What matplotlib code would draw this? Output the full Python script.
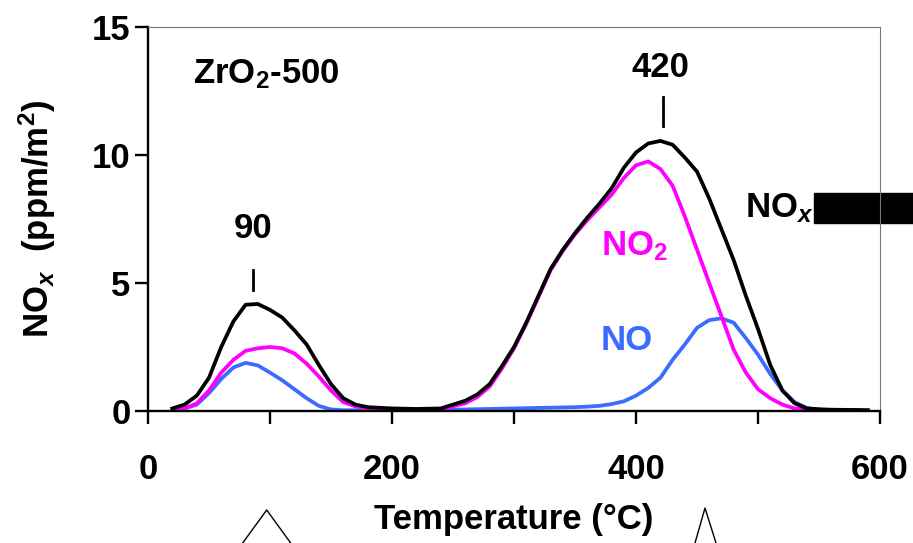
"""
TPD NOx profile, ZrO2-500 : NO, NO2 and total NOx vs temperature.
"""

import matplotlib
matplotlib.use("Agg")
import matplotlib.pyplot as plt
from matplotlib.lines import Line2D
from matplotlib.patches import Rectangle

plt.rcParams["font.family"] = ["Liberation Sans", "DejaVu Sans"]
plt.rcParams["font.weight"] = "bold"
plt.rcParams["mathtext.fontset"] = "custom"
plt.rcParams["mathtext.rm"] = "Liberation Sans:bold"
plt.rcParams["mathtext.bf"] = "Liberation Sans:bold"
plt.rcParams["mathtext.it"] = "Liberation Sans:bold:italic"

# --- data ---
temp = [20, 30, 40, 50, 60, 70, 80, 90, 100, 110, 120, 130, 140, 150, 160,
        170, 180, 200, 220, 240, 260, 270, 280, 290, 300, 310, 320, 330,
        340, 350, 360, 370, 380, 390, 400, 410, 420, 430, 440, 450, 460,
        470, 480, 490, 500, 510, 520, 530, 540, 550, 560, 580, 590]

nox = [0.10, 0.25, 0.60, 1.30, 2.50, 3.50, 4.15, 4.18, 3.95, 3.65, 3.15,
       2.60, 1.80, 1.05, 0.50, 0.25, 0.15, 0.10, 0.08, 0.10, 0.40, 0.65,
       1.05, 1.75, 2.50, 3.45, 4.50, 5.55, 6.30, 6.95, 7.55, 8.10, 8.70,
       9.50, 10.10, 10.45, 10.55, 10.40, 9.90, 9.35, 8.30, 7.10, 5.90,
       4.50, 3.20, 1.80, 0.80, 0.30, 0.10, 0.07, 0.05, 0.04, 0.03]

no2 = [0.05, 0.10, 0.30, 0.80, 1.50, 2.00, 2.35, 2.45, 2.50, 2.45, 2.25,
       1.85, 1.35, 0.80, 0.35, 0.18, 0.10, 0.07, 0.05, 0.07, 0.30, 0.55,
       0.95, 1.65, 2.45, 3.40, 4.45, 5.50, 6.25, 6.90, 7.45, 7.95, 8.45,
       9.10, 9.60, 9.75, 9.45, 8.80, 7.60, 6.30, 5.00, 3.70, 2.40, 1.50,
       0.85, 0.50, 0.25, 0.10, 0.05, 0.03, 0.02, 0.02, 0.02]

no = [0.03, 0.10, 0.25, 0.70, 1.25, 1.70, 1.88, 1.78, 1.50, 1.20, 0.85,
      0.50, 0.20, 0.06, 0.03, 0.03, 0.03, 0.03, 0.04, 0.05, 0.06, 0.07,
      0.08, 0.09, 0.10, 0.11, 0.12, 0.13, 0.14, 0.15, 0.17, 0.20, 0.27,
      0.38, 0.60, 0.90, 1.30, 2.00, 2.60, 3.25, 3.55, 3.62, 3.45, 2.85,
      2.20, 1.45, 0.80, 0.35, 0.12, 0.04, 0.02, 0.02, 0.02]

peak_temps = [90, 420]
x_ticks = [0, 100, 200, 300, 400, 500, 600]
x_ticklabels = ["0", "", "200", "", "400", "", "600"]
y_ticks = [0, 5, 10, 15]

C_NO = "#3B6CFF"
C_NO2 = "#FF00FF"
FS = 25

fig = plt.figure(figsize=(9.13, 5.43), dpi=100)
ax = fig.add_axes([0.1621, 0.2431, 0.8018, 0.7072])

ax.plot(temp, no, color=C_NO, lw=2.7)
ax.plot(temp, no2, color=C_NO2, lw=2.7)
ax.plot(temp, nox, color="black", lw=2.7)

ax.set_xlim(0, 600)
ax.set_ylim(0, 15)
ax.set_xticks(x_ticks)
ax.set_xticklabels(x_ticklabels)
ax.set_yticks(y_ticks)
ax.tick_params(axis="both", direction="out", length=9.5, width=1.7,
               labelsize=FS)
ax.tick_params(axis="x", pad=21)
ax.tick_params(axis="y", pad=3)
for lab in ax.get_xticklabels() + ax.get_yticklabels():
    lab.set_fontweight("bold")

for side in ("left", "bottom"):
    ax.spines[side].set_linewidth(1.7)
    ax.spines[side].set_color("black")
for side in ("top", "right"):
    ax.spines[side].set_linewidth(0.8)
    ax.spines[side].set_color("#777777")

ax.set_xlabel("Temperature (°C)", fontsize=FS, fontweight="bold")
ax.xaxis.set_label_coords(0.5, -0.24)
ax.set_ylabel(r"NO$_x$  (ppm/m$^2$)", fontsize=FS, fontweight="bold")
ax.yaxis.set_label_coords(-0.123, 0.5)

# annotations
ax.text(37, 13.15, r"ZrO$_2$-500", fontsize=FS, fontweight="bold",
        ha="left", va="center")
ax.text(86, 7.14, "90", fontsize=FS, fontweight="bold", ha="center", va="center")
ax.text(420, 13.4, "420", fontsize=FS, fontweight="bold", ha="center", va="center")
ax.plot([peak_temps[0] - 4] * 2, [4.72, 5.5], color="black", lw=2)
ax.plot([peak_temps[1] + 2] * 2, [11.12, 12.25], color="black", lw=2)

ax.text(371, 6.44, r"NO$_2$", color=C_NO2, fontsize=FS, fontweight="bold",
        ha="left", va="center")
ax.text(371, 2.77, "NO", color=C_NO, fontsize=FS, fontweight="bold",
        ha="left", va="center")
ax.text(546, 7.92, r"NO$_x$", color="black", fontsize=FS, fontweight="bold",
        ha="right", va="center")
ax.add_patch(Rectangle((546, 7.33), 150, 1.17, color="black", clip_on=False))

# stray outline marks at the bottom edge
for xs, ys in (([242.7, 266.7, 290.7], [543, 510, 543]),
               ([695, 705, 716], [543, 508, 543])):
    fig.add_artist(Line2D([x / 913 for x in xs], [1 - y / 543 for y in ys],
                          color="black", lw=1.0))

fig.savefig("out.png", dpi=100)
